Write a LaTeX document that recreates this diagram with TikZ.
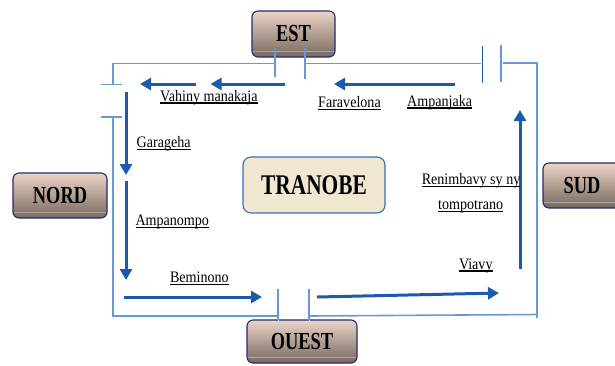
\documentclass[tikz,border=0pt]{standalone}
\usepackage{fontspec}
\setmainfont{Liberation Serif}
\newfontfamily\boxfont[FakeStretch=0.75]{Liberation Serif}
\newfontfamily\lblfont[FakeStretch=0.88]{Liberation Serif}
\usetikzlibrary{arrows.meta}
\definecolor{wallc}{RGB}{104,152,214}
\definecolor{arrc}{RGB}{28,90,176}
\definecolor{navy}{RGB}{40,42,110}
\definecolor{boxtop}{RGB}{236,212,198}
\definecolor{boxbot}{RGB}{118,104,96}
\definecolor{tranofill}{RGB}{239,231,208}
\definecolor{tranoline}{RGB}{47,112,190}
\newcommand\ulx[1]{\setbox0\hbox{#1}\rlap{\rule[-2.6pt]{\wd0}{1.2pt}}\box0}
\begin{document}
\begin{tikzpicture}[x=1pt,y=-1pt,
 wall/.style={wallc,line width=1.6pt},
 flow/.style={arrc,line width=3pt,-{Triangle[length=11pt,width=12pt]}},
 dirbox/.style={draw=navy,line width=1.1pt,rounded corners=6pt,top color=boxtop,bottom color=boxbot,inner sep=0pt,
   font=\boxfont\bfseries\fontsize{24.5}{24.5}\selectfont,
   path picture={\draw[white,opacity=0.35,line width=1pt] ([yshift=6pt]path picture bounding box.south west) -- ([yshift=6pt]path picture bounding box.south east);}},
 lbl/.style={font=\lblfont\fontsize{16}{18}\selectfont,inner sep=0pt,anchor=base west},
 ]
\useasboundingbox (0,0) rectangle (615,365);
% walls
\draw[wall] (274.5,63.5) -- (113,63.5) -- (113,84.3);
\draw[wall] (101,84.3) -- (122,84.3);
\draw[wall] (101,116.7) -- (122,116.7);
\draw[wall] (113,116.7) -- (113,316) -- (278,316);
\draw[wall] (304.5,63.5) -- (480.7,63.5);
\draw[wall] (503,63) -- (536.7,63) -- (536.7,318);
\draw[wall] (309,316) -- (536.7,314.5);
% boxes
\node[dirbox,minimum width=83pt,minimum height=46pt] (est) at (293.5,34) {EST};
\node[dirbox,minimum width=94pt,minimum height=45pt] (nord) at (60,195.5) {NORD};
\node[dirbox,minimum width=78pt,minimum height=45pt] (sud) at (582,185.5) {SUD};
\node[dirbox,minimum width=110pt,minimum height=43pt] (ouest) at (302,341.5) {OUEST};
\node[draw=tranoline,line width=1.1pt,fill=tranofill,rounded corners=8pt,minimum width=142pt,minimum height=56pt,inner sep=0pt,
  font=\boxfont\bfseries\fontsize{28.5}{28.5}\selectfont] (tranobe) at (314,185) {TRANOBE};
% door posts
\draw[wall] (275,48) -- (275,77);
\draw[wall] (305,48) -- (305,79);
\draw[arrc,line width=1.6pt] (482.3,46) -- (482.3,82.7);
\draw[wall,line width=2pt] (501,45) -- (501,81.7);
\draw[wall] (278,289) -- (278,320);
\draw[wall] (309,289) -- (309,320);
\draw[wallc!40,line width=0.8pt,dashed] (278,320) -- (278,332);
\draw[wallc!40,line width=0.8pt,dashed] (309,320) -- (309,332);
% flow arrows
\coordinate (t1s) at (455,84); \coordinate (t1e) at (334,84);
\coordinate (t2s) at (285,84); \coordinate (t2e) at (210.5,84);
\coordinate (t3s) at (196,84); \coordinate (t3e) at (140,84);
\coordinate (l1s) at (126,92.3); \coordinate (l1e) at (126,175);
\coordinate (l2s) at (126,181); \coordinate (l2e) at (126,280);
\coordinate (b1s) at (123.5,297); \coordinate (b1e) at (262,297);
\coordinate (b2s) at (317,297); \coordinate (b2e) at (499,293);
\coordinate (r1s) at (520,269); \coordinate (r1e) at (520,110);
\draw[flow] (t1s) -- (t1e);
\draw[flow] (t2s) -- (t2e);
\draw[flow] (t3s) -- (t3e);
\draw[flow] (l1s) -- (l1e);
\draw[flow] (l2s) -- (l2e);
\draw[flow] (b1s) -- (b1e);
\draw[flow] (b2s) -- (b2e);
\draw[flow] (r1s) -- (r1e);
% labels
\node[lbl] (vahiny) at (160,101) {\ulx{Vahiny manakaja}};
\node[lbl] (faravelona) at (318,107.5) {\ulx{Faravelona}};
\node[lbl] (ampanjaka) at (407,106) {\ulx{Ampanjaka}};
\node[lbl] (garageha) at (136.5,147.5) {\ulx{Garageha}};
\node[lbl] (ampanompo) at (135.3,225.5) {\ulx{Ampanompo}};
\node[lbl] (renim) at (421.6,184.5) {\ulx{Renimbavy sy ny}};
\node[lbl] (tompo) at (438,209.5) {\ulx{tompotrano}};
\node[lbl] (beminono) at (169.8,282.5) {\ulx{Beminono}};
\node[lbl] (viavy) at (458.8,269) {\ulx{Viavy}};
\end{tikzpicture}
\end{document}
